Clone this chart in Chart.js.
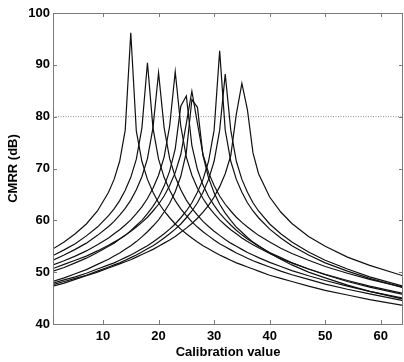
<!DOCTYPE html>
<html>
<head>
<meta charset="utf-8">
<script src="https://cdn.jsdelivr.net/npm/chart.js@4"></script>
<style>
  body { margin: 0; background: #fff; }
  canvas { display: block; }
</style>
</head>
<body>
<canvas id="cmrrChart" width="404" height="362"></canvas>
<script>
// calibration values (shared x grid, dense around the peaks)
var calib = [1, 3, 5, 7, 9, 11, 12, 13, 14, 15, 16, 17, 18, 19, 20, 21, 22, 23, 24, 25, 26, 27, 28, 29, 30,
             31, 32, 33, 34, 35, 36, 37, 38, 40, 42, 44, 47, 50, 54, 58, 64];

// CMRR (dB), one curve per channel
var peak15 = [54.5, 55.8, 57.4, 59.3, 61.8, 65.4, 67.9, 71.4, 77.4, 96.2, 77.2, 71.4, 67.9, 65.4, 63.4, 61.8, 60.5, 59.3, 58.3, 57.4, 56.6, 55.8, 55.1, 54.5, 53.9,
              53.3, 52.8, 52.3, 51.8, 51.4, 51.0, 50.6, 50.2, 49.4, 48.8, 48.2, 47.3, 46.5, 45.6, 44.7, 43.6];
var peak18 = [53.2, 54.3, 55.5, 57.0, 58.7, 60.9, 62.2, 63.8, 65.8, 68.3, 71.8, 77.8, 90.4, 77.8, 71.8, 68.3, 65.8, 63.8, 62.2, 60.9, 59.7, 58.7, 57.8, 57.0, 56.2,
              55.5, 54.9, 54.3, 53.7, 53.2, 52.7, 52.2, 51.8, 51.0, 50.2, 49.5, 48.6, 47.7, 46.7, 45.8, 44.5];
var peak20 = [52.3, 53.3, 54.4, 55.6, 57.1, 58.8, 59.8, 61.0, 62.3, 63.9, 65.9, 68.4, 71.9, 77.9, 88.5, 77.9, 71.9, 68.4, 65.9, 63.9, 62.3, 61.0, 59.8, 58.8, 57.9,
              57.1, 56.3, 55.6, 55.0, 54.4, 53.8, 53.3, 52.8, 51.9, 51.1, 50.3, 49.3, 48.4, 47.3, 46.3, 45.0];
var peak23 = [51.4, 52.2, 53.1, 54.1, 55.3, 56.6, 57.4, 58.2, 59.1, 60.1, 61.3, 62.6, 64.2, 66.2, 68.7, 72.2, 78.2, 88.7, 78.2, 72.2, 68.7, 66.2, 64.2, 62.6, 61.3,
              60.1, 59.1, 58.2, 57.4, 56.6, 55.9, 55.3, 54.7, 53.6, 52.6, 51.8, 50.6, 49.6, 48.4, 47.3, 45.9];
var peak25 = [50.2, 50.9, 51.8, 52.7, 53.8, 55.0, 55.6, 56.4, 57.1, 58.0, 59.0, 60.0, 61.3, 62.7, 64.4, 66.6, 69.5, 73.8, 82.0, 84.0, 74.4, 69.8, 66.8, 64.6, 62.9,
              61.4, 60.2, 59.1, 58.1, 57.2, 56.4, 55.7, 55.0, 53.8, 52.8, 51.8, 50.6, 49.5, 48.2, 47.1, 45.7];
var peak26 = [50.7, 51.5, 52.3, 53.1, 54.1, 55.2, 55.8, 56.4, 57.1, 57.9, 58.7, 59.6, 60.6, 61.8, 63.1, 64.7, 66.7, 69.2, 72.7, 78.7, 84.9, 78.7, 72.7, 69.2, 66.7,
              64.7, 63.1, 61.8, 60.6, 59.6, 58.7, 57.9, 57.1, 55.8, 54.6, 53.6, 52.3, 51.1, 49.8, 48.6, 47.1];
var peak27 = [48.2, 48.9, 49.7, 50.5, 51.5, 52.5, 53.1, 53.7, 54.4, 55.1, 55.9, 56.8, 57.8, 58.9, 60.1, 61.6, 63.3, 65.5, 68.5, 73.1, 83.3, 81.8, 72.5, 68.2, 65.3,
              63.1, 61.4, 60.0, 58.7, 57.7, 56.7, 55.8, 55.1, 53.7, 52.5, 51.4, 50.0, 48.9, 47.5, 46.3, 44.8];
var peak31 = [47.9, 48.5, 49.1, 49.8, 50.6, 51.4, 51.8, 52.3, 52.8, 53.3, 53.9, 54.5, 55.1, 55.8, 56.6, 57.4, 58.3, 59.3, 60.5, 61.8, 63.4, 65.4, 67.9, 71.4, 77.4,
              92.7, 77.4, 71.4, 67.9, 65.4, 63.4, 61.8, 60.5, 58.3, 56.6, 55.1, 53.3, 51.8, 50.2, 48.8, 47.0];
var peak32 = [47.6, 48.2, 48.8, 49.4, 50.2, 51.0, 51.4, 51.8, 52.3, 52.8, 53.3, 53.9, 54.5, 55.1, 55.8, 56.6, 57.4, 58.3, 59.3, 60.5, 61.8, 63.4, 65.4, 67.9, 71.4,
              77.4, 88.2, 77.4, 71.4, 67.9, 65.4, 63.4, 61.8, 59.3, 57.4, 55.8, 53.9, 52.3, 50.6, 49.1, 47.3];
var peak35 = [47.3, 47.9, 48.6, 49.3, 50.0, 50.8, 51.2, 51.6, 52.0, 52.4, 52.9, 53.4, 53.9, 54.4, 55.0, 55.6, 56.2, 56.9, 57.7, 58.5, 59.4, 60.4, 61.6, 62.9, 64.5,
              66.5, 69.0, 72.5, 80.5, 86.4, 81.3, 73.0, 69.0, 64.5, 61.6, 59.4, 56.9, 55.0, 52.9, 51.3, 49.3];

var curves = [peak15, peak18, peak20, peak23, peak25, peak26, peak27, peak31, peak32, peak35];

// dotted reference level
var refX = [1, 64];
var refY = [80, 80];

var xTicks = [10, 20, 30, 40, 50, 60];

var labelFont = { family: "'Liberation Sans', Arial, sans-serif", size: 13, weight: 'bold' };

function toPoints(xs, ys) {
    return xs.map(function (x, i) { return { x: x, y: ys[i] }; });
}

var datasets = curves.map(function (ys) {
    return {
        data: toPoints(calib, ys),
        borderColor: '#111',
        borderWidth: 1.2,
        pointRadius: 0,
        tension: 0,
        fill: false
    };
});
datasets.push({
    data: toPoints(refX, refY),
    borderColor: '#8a8a8a',
    borderWidth: 1,
    borderDash: [1, 1.5],
    pointRadius: 0,
    fill: false
});

// axes box with inward tick marks, matlab style
var boxPlugin = {
    id: 'box',
    afterDraw: function (chart) {
        var a = chart.chartArea, ctx = chart.ctx;
        var xs = chart.scales.x, ys = chart.scales.y;
        ctx.save();
        ctx.strokeStyle = '#7a7a7a';
        ctx.lineWidth = 1;
        ctx.strokeRect(a.left + 0.5, a.top + 0.5, a.right - a.left - 1, a.bottom - a.top);
        ctx.beginPath();
        xs.ticks.forEach(function (t) {
            var px = Math.round(xs.getPixelForValue(t.value)) + 0.5;
            ctx.moveTo(px, a.bottom); ctx.lineTo(px, a.bottom - 4);
            ctx.moveTo(px, a.top); ctx.lineTo(px, a.top + 4);
        });
        ys.ticks.forEach(function (t) {
            var py = Math.round(ys.getPixelForValue(t.value)) + 0.5;
            ctx.moveTo(a.left, py); ctx.lineTo(a.left + 4, py);
            ctx.moveTo(a.right, py); ctx.lineTo(a.right - 4, py);
        });
        ctx.stroke();
        ctx.restore();
    }
};

new Chart(document.getElementById('cmrrChart'), {
    type: 'line',
    data: { datasets: datasets },
    plugins: [boxPlugin],
    options: {
        responsive: false,
        animation: false,
        layout: { padding: { top: 13, right: 1, left: 0, bottom: 0 } },
        plugins: { legend: { display: false }, tooltip: { enabled: false } },
        scales: {
            x: {
                type: 'linear',
                min: 1,
                max: 64,
                afterBuildTicks: function (scale) {
                    scale.ticks = xTicks.map(function (v) { return { value: v }; });
                },
                afterFit: function (scale) { scale.height = 38; },
                grid: { display: false, drawTicks: false },
                border: { display: false },
                ticks: { color: '#000', font: labelFont, padding: 5, maxRotation: 0 },
                title: { display: true, text: 'Calibration value', color: '#000', font: labelFont, padding: { top: 0, bottom: 2 } }
            },
            y: {
                min: 40,
                max: 100,
                afterFit: function (scale) { scale.width = 53; },
                grid: { display: false, drawTicks: false },
                border: { display: false },
                ticks: { stepSize: 10, color: '#000', font: labelFont, padding: 3 },
                title: { display: true, text: 'CMRR (dB)', color: '#000', font: labelFont, padding: { top: 6, bottom: 0 } }
            }
        }
    }
});
</script>
</body>
</html>
